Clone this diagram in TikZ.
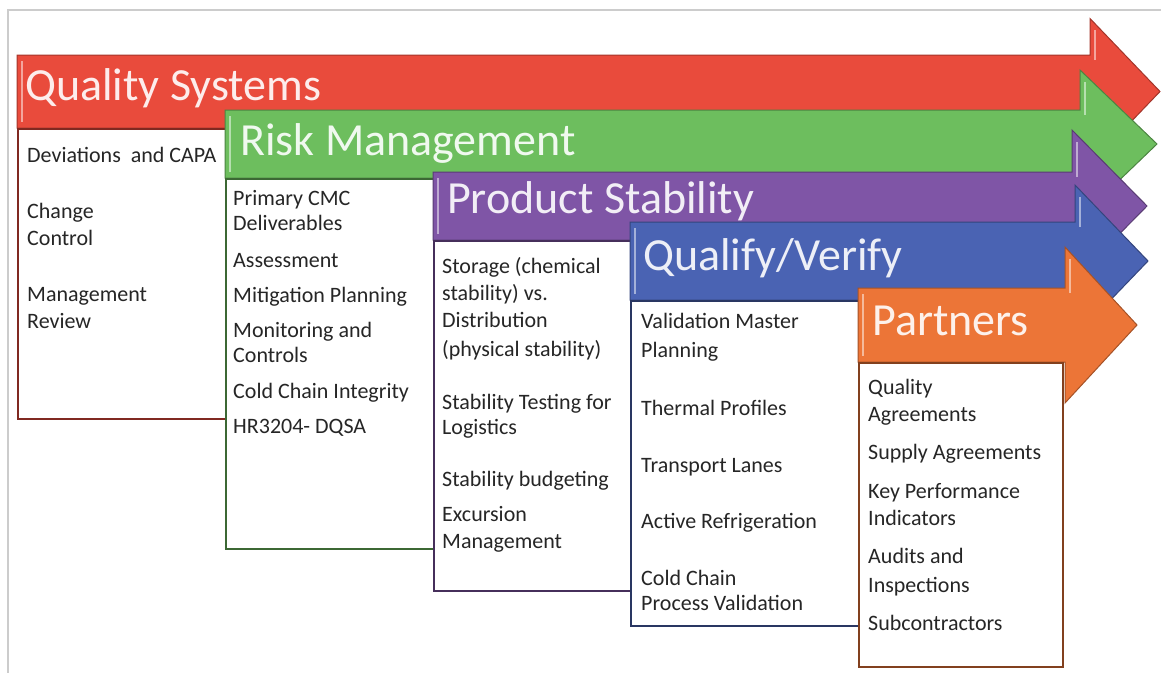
\documentclass[tikz,border=0pt]{standalone}
\usepackage{fontspec}
\setmainfont{Carlito}

\definecolor{qsred}{HTML}{E94B3C}
\definecolor{rmgreen}{HTML}{6DBE5E}
\definecolor{pspurple}{HTML}{7F55A6}
\definecolor{qvblue}{HTML}{4A63B3}
\definecolor{ptorange}{HTML}{EC7537}
\definecolor{framegrey}{HTML}{CCCCCC}

\begin{document}
\begin{tikzpicture}[
    x=1pt, y=-1pt,
    banner/.style={fill=#1, draw=#1!70!black, line width=1pt, line join=miter},
    glint/.style={draw=white!50!#1, line width=1.6pt},
    title/.style={anchor=base west, inner sep=0pt, text=white!90!#1, font=\fontsize{46}{50}\selectfont},
    listbox/.style={fill=white, draw=#1!55!black, line width=2pt, anchor=north west, inner sep=0pt},
    items/.style={anchor=base west, inner sep=0pt, align=left, text=black!85, font=\fontsize{22}{27}\selectfont}
  ]
    \useasboundingbox (0,0) rectangle (1161,672);
    \draw[framegrey, line width=1.5pt] (8,680) -- (8,10) -- (1170,10);

    % quality systems (list is placed by its last baseline)
    \filldraw[banner=qsred] (17,55) -- (1090,55) -- (1090,18.5) -- (1160,91.5) -- (1090,164.5) -- (1090,128) -- (17,128) -- cycle;
    \draw[glint=qsred] (22,61) -- (22,122) (1095,30) -- (1095,60);
    \node[title=qsred] (qstitle) at (25,100) {Quality Systems};
    \node[listbox=qsred, minimum width=223pt, minimum height=290pt] (qsbox) at (17,128) {};
    \node[items] (qsitems) at (27,328) {Deviations~ and CAPA\\[29pt]Change\\Control\\[29pt]Management\\Review};

    % risk management
    \filldraw[banner=rmgreen] (225,110) -- (1080,110) -- (1080,70) -- (1157,144) -- (1080,218) -- (1080,178) -- (225,178) -- cycle;
    \draw[glint=rmgreen] (230,116) -- (230,172) (1085,82) -- (1085,115);
    \node[title=rmgreen] (rmtitle) at (240,155) {Risk Management};
    \node[listbox=rmgreen, minimum width=220pt, minimum height=370pt] (rmbox) at (225,178) {};
    \node[items] (rmitems) at (233,433) {Primary CMC\\[-2pt]Deliverables\\[10pt]Assessment\\[8pt]Mitigation Planning\\[8pt]Monitoring and\\[-2pt]Controls\\[9pt]Cold Chain Integrity\\[8pt]HR3204- DQSA};

    % product stability
    \filldraw[banner=pspurple] (433,172) -- (1072,172) -- (1072,130) -- (1147,206) -- (1072,282) -- (1072,240) -- (433,240) -- cycle;
    \draw[glint=pspurple] (438,178) -- (438,234) (1077,142) -- (1077,177);
    \node[title=pspurple] (pstitle) at (447,213) {Product Stability};
    \node[listbox=pspurple, minimum width=207pt, minimum height=350pt] (psbox) at (433,240) {};
    \node[items] (psitems) at (442,548) {Storage (chemical\\stability) vs.\\Distribution\\[2pt](physical stability)\\[26pt]Stability Testing for\\[-2pt]Logistics\\[25pt]Stability budgeting\\[8pt]Excursion\\Management};

    % qualify / verify
    \filldraw[banner=qvblue] (630,222) -- (1075,222) -- (1075,185) -- (1148,261) -- (1075,337) -- (1075,300) -- (630,300) -- cycle;
    \draw[glint=qvblue] (635,228) -- (635,294) (1080,197) -- (1080,227);
    \node[title=qvblue] (qvtitle) at (643,270) {Qualify/Verify};
    \node[listbox=qvblue, minimum width=235pt, minimum height=325pt] (qvbox) at (630,300) {};
    \node[items] (qvitems) at (641,610) {Validation Master\\[2pt]Planning\\[31pt]Thermal Profiles\\[30pt]Transport Lanes\\[29pt]Active Refrigeration\\[30pt]Cold Chain\\[-2pt]Process Validation};

    % partners
    \filldraw[banner=ptorange] (858,288) -- (1065,288) -- (1065,247) -- (1137,325) -- (1065,403) -- (1065,362) -- (858,362) -- cycle;
    \draw[glint=ptorange] (863,294) -- (863,356) (1070,259) -- (1070,293);
    \node[title=ptorange] (pttitle) at (872,335) {Partners};
    \node[listbox=ptorange, minimum width=204pt, minimum height=304pt] (ptbox) at (858,362) {};
    \node[items] (ptitems) at (868,630) {Quality\\Agreements\\[11pt]Supply Agreements\\[12pt]Key Performance\\Indicators\\[11pt]Audits and\\[2pt]Inspections\\[11pt]Subcontractors};
  \end{tikzpicture}
\end{document}
